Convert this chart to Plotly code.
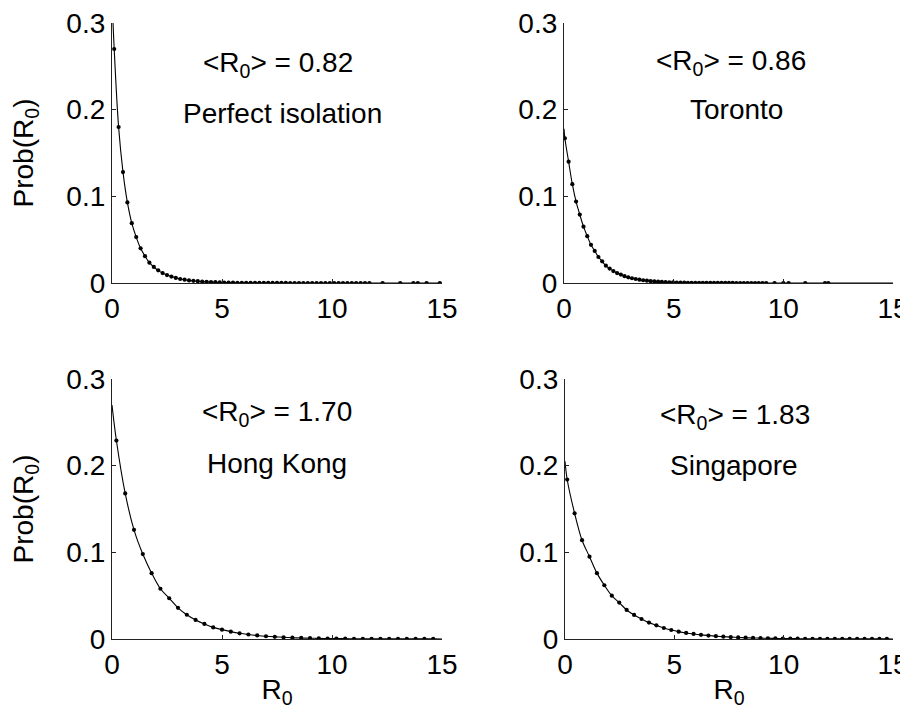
import plotly.graph_objects as go

# ---------------- data ----------------
x_ticks = [0, 5, 10, 15]
y_ticks = [0, 0.1, 0.2, 0.3]
y_tick_text = ["0", "0.1", "0.2", "0.3"]

panel_names = ["Perfect isolation", "Toronto", "Hong Kong", "Singapore"]
mean_r0 = ["0.82", "0.86", "1.70", "1.83"]

# Perfect isolation: regular grid start/step, then a few scattered tail points
pi_start, pi_step, pi_n = 0.1, 0.2, 59
pi_y = [0.270, 0.180, 0.128, 0.093, 0.069, 0.053, 0.040, 0.031, 0.0235, 0.0185,
        0.0146, 0.0115, 0.0092, 0.0074, 0.0058, 0.0046, 0.0038, 0.0030, 0.0025,
        0.0021, 0.0017, 0.0014, 0.0011, 0.0009, 0.0007, 0.0006, 0.0005, 0.0004,
        0.0003, 0.0003,
        0.0002, 0.0002, 0.0002, 0.0001, 0.0001, 0.0001, 0.0001, 0.0001, 0.0001,
        0.0001,
        0, 0, 0, 0, 0, 0, 0, 0, 0, 0, 0, 0, 0, 0, 0, 0, 0, 0, 0]
pi_tail_x = [12.3, 13.1, 13.7, 13.9, 14.3, 14.9]
pi_tail_y = [0, 0, 0, 0, 0, 0]
pi_curve_start = 0.33

# Toronto
to_start, to_step, to_n = 0.04, 0.17, 55
to_y = [0.167, 0.140, 0.114, 0.094, 0.079, 0.065, 0.054, 0.044, 0.037, 0.030,
        0.025, 0.020, 0.0166, 0.0138, 0.0115, 0.0097, 0.0079, 0.0066, 0.0055,
        0.0046, 0.0038, 0.0032, 0.0027, 0.0022, 0.0018, 0.0015, 0.0012, 0.0010,
        0.0008, 0.0007, 0.0006, 0.0005, 0.0004, 0.0003, 0.0003, 0.0002, 0.0002,
        0.0002, 0.0001,
        0.0001, 0.0001, 0.0001, 0.0001, 0.0001, 0.0001, 0.0001,
        0, 0, 0, 0, 0, 0, 0, 0, 0]
to_tail_x = [9.6, 10.0, 10.24, 11.0, 11.9, 12.05]
to_tail_y = [0, 0, 0, 0, 0, 0]
to_curve_start = 0.178

# Hong Kong
hk_start, hk_step, hk_n = 0.2, 0.4, 37
hk_y = [0.229, 0.168, 0.126, 0.098, 0.076, 0.058, 0.047, 0.036, 0.028, 0.022,
        0.0174, 0.0134, 0.0108, 0.0085, 0.0066, 0.0052, 0.0041, 0.0032, 0.0025,
        0.0020,
        0.0015, 0.0012, 0.0009, 0.0007, 0.0006, 0.0005, 0.0004, 0.0003, 0.0002,
        0.0002,
        0.0002, 0.0001, 0.0001, 0.0001, 0.0001, 0.0001, 0.0001]
hk_tail_x = []
hk_tail_y = []
hk_curve_start = 0.27

# Singapore
sg_start, sg_step, sg_n = 0.1, 0.34, 44
sg_y = [0.184, 0.145, 0.114, 0.095, 0.076, 0.062, 0.050, 0.042, 0.0335, 0.0278,
        0.0231, 0.0189, 0.0158, 0.0127, 0.0104, 0.0085,
        0.0070, 0.0058, 0.0048, 0.0040, 0.0033, 0.0027, 0.0022, 0.0018, 0.0015,
        0.0012, 0.0010, 0.0008, 0.0007, 0.0006, 0.0005, 0.0004, 0.0003, 0.0003,
        0.0002, 0.0002, 0.0002,
        0.0001, 0.0001, 0.0001, 0.0001, 0.0001, 0.0001, 0.0001]
sg_tail_x = []
sg_tail_y = []
sg_curve_start = 0.205

# ---------------- build ----------------
def grid(start, step, n):
    return [round(start + step * k, 3) for k in range(n)]

series = [
    (grid(pi_start, pi_step, pi_n) + pi_tail_x, pi_y + pi_tail_y, pi_curve_start),
    (grid(to_start, to_step, to_n) + to_tail_x, to_y + to_tail_y, to_curve_start),
    (grid(hk_start, hk_step, hk_n) + hk_tail_x, hk_y + hk_tail_y, hk_curve_start),
    (grid(sg_start, sg_step, sg_n) + sg_tail_x, sg_y + sg_tail_y, sg_curve_start),
]

FONT = "Liberation Sans, Arial, Helvetica, sans-serif"
W, H = 908, 713
OFF = 8  # page body margin
fig = go.Figure()

axis_ids = [("x", "y"), ("x2", "y2"), ("x3", "y3"), ("x4", "y4")]
for (xs, ys, y0), (xa, ya) in zip(series, axis_ids):
    lx = [0] + xs
    ly = [y0] + ys
    if lx[-1] < 15:
        lx = lx + [15]
        ly = ly + [0]
    fig.add_trace(go.Scatter(x=lx, y=ly, mode="lines", xaxis=xa, yaxis=ya,
                             line=dict(color="black", width=1.1, shape="spline"),
                             showlegend=False, hoverinfo="skip"))
    fig.add_trace(go.Scatter(x=xs, y=ys, mode="markers", xaxis=xa, yaxis=ya,
                             marker=dict(color="black", size=4.2),
                             showlegend=False))

# panel pixel boxes in the screenshot (left, right, top, bottom)
boxes = [(112, 442, 23, 283), (564, 893, 23, 283),
         (112, 442, 379, 639), (565, 893, 379, 639)]

FS = 28
tick_font = dict(family=FONT, size=FS, color="black")
common_x = dict(range=[0, 15], tickvals=x_ticks, ticktext=[str(v) for v in x_ticks],
                showline=True, linecolor="#222", linewidth=1.2, ticks="inside",
                ticklen=4, tickwidth=1, tickcolor="#222", showgrid=False,
                zeroline=False, tickfont=tick_font, automargin=False,
                ticklabeloverflow="allow", fixedrange=True)
common_y = dict(range=[0, 0.3], tickvals=y_ticks, ticktext=y_tick_text,
                showline=True, linecolor="#222", linewidth=1.2, ticks="inside",
                ticklen=4, tickwidth=1, tickcolor="#222", showgrid=False,
                zeroline=False, tickfont=tick_font, automargin=False,
                ticklabeloverflow="allow", fixedrange=True)

layout_axes = {}
for i, (l, r, t, b) in enumerate(boxes):
    sfx = "" if i == 0 else str(i + 1)
    xd = [(l - OFF) / W, (r - OFF) / W]
    yd = [1 - (b - OFF) / H, 1 - (t - OFF) / H]
    xa = dict(common_x, domain=xd, anchor="y" + sfx)
    ya = dict(common_y, domain=yd, anchor="x" + sfx)
    if i >= 2:
        xa["title"] = dict(text="R<sub>0</sub>", font=dict(family=FONT, size=FS, color="black"),
                           standoff=0)
    if i % 2 == 0:
        ya["title"] = dict(text="Prob(R<sub>0</sub>)", font=dict(family=FONT, size=FS, color="black"),
                           standoff=28)
    layout_axes["xaxis" + sfx] = xa
    layout_axes["yaxis" + sfx] = ya

# annotation positions in data units of each panel
ann_pos = [((7.55, 0.252), (7.77, 0.196)),
           ((7.6, 0.254), (7.85, 0.200)),
           ((7.5, 0.260), (7.5, 0.203)),
           ((7.76, 0.257), (7.73, 0.200))]
annotations = []
for i, ((mx, my), (nx, ny)) in enumerate(ann_pos):
    sfx = "" if i == 0 else str(i + 1)
    annotations.append(dict(x=mx, y=my, xref="x" + sfx, yref="y" + sfx,
                            text="&lt;R<sub>0</sub>&gt; = " + mean_r0[i], showarrow=False,
                            font=dict(family=FONT, size=FS, color="black"),
                            xanchor="center", yanchor="middle"))
    annotations.append(dict(x=nx, y=ny, xref="x" + sfx, yref="y" + sfx,
                            text=panel_names[i], showarrow=False,
                            font=dict(family=FONT, size=FS, color="black"),
                            xanchor="center", yanchor="middle"))

fig.update_layout(width=W, height=H, margin=dict(l=0, r=0, t=0, b=0),
                  paper_bgcolor="white", plot_bgcolor="white",
                  annotations=annotations, **layout_axes)

fig.write_html("out.html")
